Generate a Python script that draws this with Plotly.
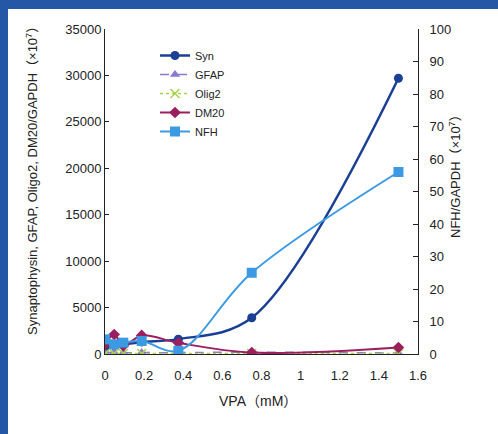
import plotly.graph_objects as go

# ---- data ----
vpa_mM = [0, 0.046875, 0.09375, 0.1875, 0.375, 0.75, 1.5]
syn = [600, 900, 1000, 1300, 1600, 3900, 29700]
gfap = [150, 200, 150, 150, 150, 200, 100]
olig2 = [50, 50, 50, 50, 50, 50, 50]
dm20 = [1000, 2100, 900, 2000, 1200, 150, 700]
nfh = [4.5, 3, 3.5, 4, 1, 25, 56]

x_ticks = [0, 0.2, 0.4, 0.6, 0.8, 1, 1.2, 1.4, 1.6]
left_ticks = [0, 5000, 10000, 15000, 20000, 25000, 30000, 35000]
right_ticks = [0, 10, 20, 30, 40, 50, 60, 70, 80, 90, 100]

FONT = "Liberation Sans, Arial, Noto Sans CJK JP, sans-serif"

fig = go.Figure()

def add(name, y, color, symbol, dash="solid", width=2, size=9, yaxis="y", mline=None):
    marker = dict(symbol=symbol, size=size, color=color)
    if mline:
        marker["line"] = mline
    fig.add_trace(go.Scatter(
        x=vpa_mM, y=y, name=name, mode="lines+markers", yaxis=yaxis,
        line=dict(color=color, width=width, shape="spline", smoothing=1, dash=dash),
        marker=marker,
    ))

add("Syn", syn, "#1b3f95", "circle", width=2.5, size=9)
add("GFAP", gfap, "#8b78cf", "triangle-up", dash="dash", width=1.5, size=9)
add("Olig2", olig2, "#a8d24e", "x-thin", dash="dot", width=1.5, size=9,
    mline=dict(color="#a8d24e", width=1.5))
add("DM20", dm20, "#9b1f5f", "diamond", width=2, size=9)
add("NFH", nfh, "#3c9ae2", "square", width=2, size=10, yaxis="y2")

L, R, T, B, W, H = 105, 80, 29, 80, 498, 434
pw, ph = W - L - R, H - T - B

def px(xp):
    return (xp - L) / pw

def py(yp):
    return (H - B - yp) / ph

blue = "#2557a7"
shapes = [
    dict(type="rect", xref="paper", yref="paper", x0=px(0), x1=px(8), y0=py(H), y1=py(0),
         fillcolor=blue, line=dict(width=0), layer="below"),
    dict(type="rect", xref="paper", yref="paper", x0=px(0), x1=px(W), y0=py(9), y1=py(0),
         fillcolor=blue, line=dict(width=0), layer="below"),
]

annotations = [
    dict(text="Synaptophysin, GFAP, Oligo2, DM20/GAPDH（×10<sup>7</sup>）",
         xref="paper", yref="paper", x=px(22), y=py(178), textangle=-90,
         showarrow=False, font=dict(family=FONT, size=13, color="#222")),
    dict(text="NFH/GAPDH（×10<sup>7</sup>）",
         xref="paper", yref="paper", x=px(465), y=py(173), textangle=-90,
         showarrow=False, font=dict(family=FONT, size=13, color="#222")),
    dict(text="VPA（mM）", xref="paper", yref="paper", x=px(258), y=py(411),
         showarrow=False, font=dict(family=FONT, size=14, color="#222")),
]

fig.update_layout(
    width=W, height=H,
    margin=dict(l=L, r=R, t=T, b=B, pad=0),
    paper_bgcolor="white", plot_bgcolor="rgba(0,0,0,0)",
    font=dict(family=FONT, size=13, color="#222"),
    shapes=shapes, annotations=annotations,
    xaxis=dict(range=[0, 1.6], tickvals=x_ticks, ticktext=[f"{v:g}" for v in x_ticks],
               showgrid=False, zeroline=False, showline=True, linecolor="#222",
               linewidth=1, ticks="", ticklabelstandoff=9),
    yaxis=dict(range=[0, 35000], tickvals=left_ticks, ticktext=[str(v) for v in left_ticks],
               showgrid=False, zeroline=False, showline=True, linecolor="#222",
               linewidth=1, ticks="inside", ticklen=4, tickcolor="#222"),
    yaxis2=dict(range=[0, 100], tickvals=right_ticks, ticktext=[str(v) for v in right_ticks],
                overlaying="y", side="right", showgrid=False, zeroline=False,
                showline=True, linecolor="#222", linewidth=1, ticks="inside",
                ticklen=5, tickcolor="#222", ticklabelstandoff=8),
    legend=dict(x=px(155), y=py(41), xanchor="left", yanchor="top",
                bgcolor="rgba(0,0,0,0)", font=dict(family=FONT, size=11, color="#222"),
                itemwidth=30, tracegroupgap=0),
    showlegend=True,
)

fig.write_html(
    "out.html",
    config={"displayModeBar": False},
    post_script="document.body.style.margin='0';document.body.style.overflow='hidden';",
)
